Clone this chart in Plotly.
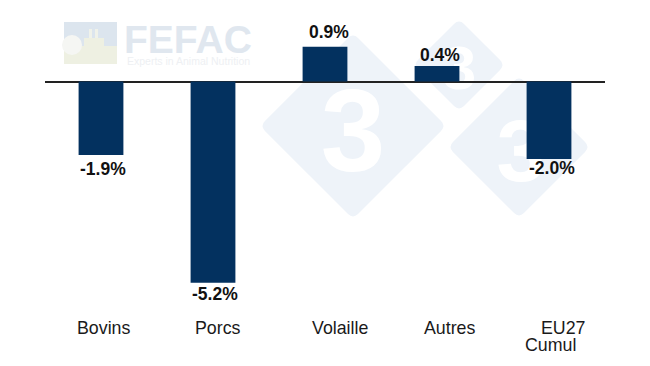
import plotly.graph_objects as go

categories = ["Bovins", "Porcs", "Volaille", "Autres", "EU27"]
values = [-1.9, -5.2, 0.9, 0.4, -2.0]
value_labels = ["-1.9%", "-5.2%", "0.9%", "0.4%", "-2.0%"]

W, H = 650, 366
L, R = 45, 605
ZERO_PX = 81.5
PX_PER_UNIT = 38.7

def px(x):
    return (x - L) / (R - L)

def py(y):
    return 1 - y / H

def diamond(cx, cy, h, r=7):
    pts = [(cx, cy - h), (cx + h, cy), (cx, cy + h), (cx - h, cy)]
    d = ""
    s = r * 0.7071
    dirs = [(1, 1), (-1, 1), (-1, -1), (1, -1)]
    for i, (x, y) in enumerate(pts):
        ox, oy = dirs[i - 1]
        nx, ny = dirs[i]
        a = (px(x - ox * s), py(y - oy * s))
        b = (px(x + nx * s), py(y + ny * s))
        d += f"{'M' if i == 0 else 'L'}{a[0]:.5f},{a[1]:.5f} Q{px(x):.5f},{py(y):.5f} {b[0]:.5f},{b[1]:.5f} "
    return d + "Z"

FONT = "Liberation Sans, Arial, sans-serif"
WM = "#eef3f9"

def rect(x0, x1, y0, y1, color):
    return dict(type="rect", xref="paper", yref="paper", layer="below",
                x0=px(x0), x1=px(x1), y0=py(y1), y1=py(y0),
                fillcolor=color, line=dict(width=0))

shapes = []
for cx, cy, h, size, glyph_x, glyph_y in [
    (353, 126, 93, 116, 353, 127),
    (459, 65, 46, 62, 459, 65),
    (519, 147, 71, 88, 521, 148),
]:
    shapes.append(dict(type="path", path=diamond(cx, cy, h), xref="paper", yref="paper",
                       fillcolor=WM, line=dict(width=0), layer="below"))
    lift = 0.06 * size
    shapes.append(dict(
        type="rect", xref="paper", yref="paper", layer="below",
        x0=px(glyph_x - 5), x1=px(glyph_x + 5),
        y0=py(glyph_y - lift + 5), y1=py(glyph_y - lift - 5),
        fillcolor="rgba(0,0,0,0)", line=dict(width=0),
        label=dict(text="<b>3</b>", textposition="middle center",
                   font=dict(color="white", size=size, family=FONT)),
    ))

# FEFAC logo block
shapes += [
    rect(64, 117, 46, 64, "#eef0e2"),
    rect(64, 117, 22, 46, "#dce5ee"),
    rect(89, 92, 29, 46, "#f0f2ea"),
    rect(95, 98, 29, 46, "#f0f2ea"),
    rect(84, 104, 38, 46, "#eef0e2"),
    dict(type="circle", xref="paper", yref="paper", layer="below",
         x0=px(62), x1=px(82), y0=py(55), y1=py(35),
         fillcolor="#f5f6f3", line=dict(width=0)),
]

fig = go.Figure(go.Bar(
    x=categories, y=values, marker=dict(color="#03315f", line=dict(width=0)),
    width=0.4, hoverinfo="skip",
))

annotations = [
    dict(x=px(188), y=py(39), xref="paper", yref="paper", text="<b>FEFAC</b>", showarrow=False,
         xanchor="center", yanchor="middle",
         font=dict(family=FONT, size=39, color="#e0e7ef")),
    dict(x=px(188), y=py(61), xref="paper", yref="paper", text="Experts in Animal Nutrition",
         xanchor="center", yanchor="middle",
         showarrow=False, font=dict(family=FONT, size=10.5, color="#eef0f3")),
]

label_dx = [1.5, 1.5, 3.5, 2.5, 3]
label_dy = [14, 11, 15, 11, 9]
for c, v, t, dx, dy in zip(categories, values, value_labels, label_dx, label_dy):
    annotations.append(dict(
        x=c, y=v, text=f"<b>{t}</b>", showarrow=False, xshift=dx,
        yshift=dy if v > 0 else -dy, yanchor="middle",
        font=dict(family=FONT, size=17.5, color="#111111"),
    ))

tick_dx = [2, 5, 14.5, 12.5, 14]
for c, dx in zip(categories, tick_dx):
    annotations.append(dict(
        x=c, y=(ZERO_PX - 328) / PX_PER_UNIT, text=c, showarrow=False, xshift=dx,
        yanchor="middle", font=dict(family=FONT, size=17.8, color="#1a1a1a"),
    ))
annotations.append(dict(
    x="EU27", y=(ZERO_PX - 344.5) / PX_PER_UNIT, text="Cumul", showarrow=False, xshift=1.5,
    yanchor="middle", font=dict(family=FONT, size=17.8, color="#1a1a1a"),
))

fig.update_layout(
    width=W, height=H, margin=dict(l=L, r=W - R, t=0, b=0),
    paper_bgcolor="white", plot_bgcolor="rgba(0,0,0,0)",
    showlegend=False, shapes=shapes, annotations=annotations,
    xaxis=dict(type="category", categoryorder="array", categoryarray=categories,
               range=[-0.5, 4.5], showticklabels=False, ticks="", showgrid=False,
               showline=False, zeroline=False, fixedrange=True),
    yaxis=dict(range=[(ZERO_PX - H) / PX_PER_UNIT, ZERO_PX / PX_PER_UNIT],
               showticklabels=False, ticks="", showgrid=False, showline=False,
               zeroline=True, zerolinecolor="#222222", zerolinewidth=2, fixedrange=True),
)

fig.write_html("out.html", config=dict(displayModeBar=False),
               post_script="document.body.style.margin='0';")
